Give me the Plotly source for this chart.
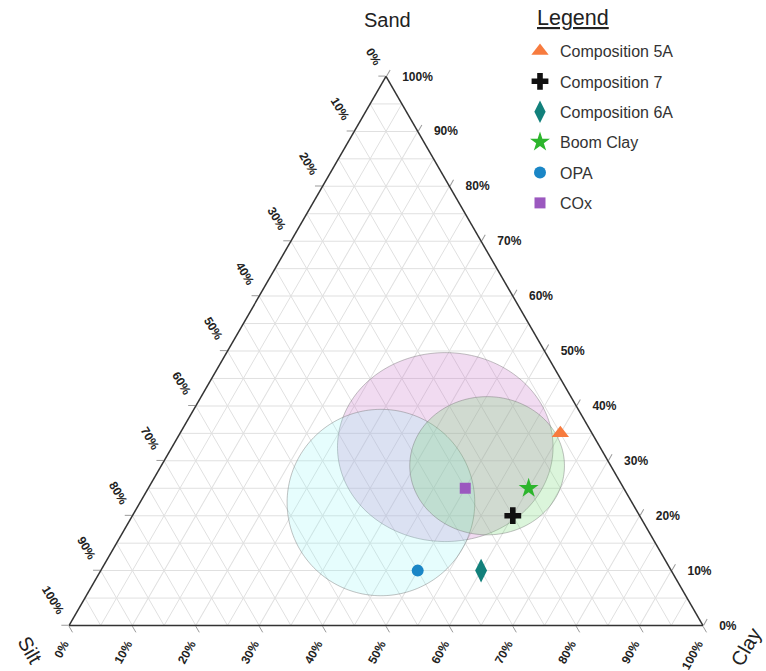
import numpy as np
import plotly.graph_objects as go

# Sample compositions (percent)
names = ["Composition 5A", "Composition 7", "Composition 6A", "Boom Clay", "OPA", "COx"]
sand = [35, 20, 10, 25, 10, 25]
silt = [5, 20, 30, 15, 40, 25]
clay = [60, 60, 60, 60, 50, 50]
symbols = ["triangle-up", "cross", "diamond-tall", "star", "circle", "square"]
colors = ["#f77b3e", "#111111", "#12807b", "#2cb52c", "#1a86c6", "#9b58bf"]
sizes = [15, 14, 17, 15, 12, 11]

# Envelope ellipses: centre (sand, silt, clay %) and half-axes as a fraction of the side
env_sand = [32.5, 22.4, 29.1]
env_silt = [24.4, 39.6, 19.5]
env_clay = [43.1, 38.0, 51.4]
env_rx = [0.170, 0.148, 0.122]
env_ry = [0.149, 0.147, 0.109]
env_fill = ["rgba(200,110,200,0.25)", "rgba(140,245,245,0.22)", "rgba(110,215,110,0.25)"]

tick_vals = list(range(0, 101, 10))
minor_vals = list(range(5, 100, 10))

FONT = "Arial, Liberation Sans, sans-serif"
GRID = "#e0e0e0"
H = np.sqrt(3) / 2

fig = go.Figure()

# 5 % grid lines between the labelled ones
for key in ["a", "b", "c"]:
    A, B, C = [], [], []
    for v in minor_vals:
        pts = {"a": [], "b": [], "c": []}
        others = [k for k in "abc" if k != key]
        pts[key] = [v, v]
        pts[others[0]] = [100 - v, 0]
        pts[others[1]] = [0, 100 - v]
        A += pts["a"] + [None]
        B += pts["b"] + [None]
        C += pts["c"] + [None]
    fig.add_trace(go.Scatterternary(a=A, b=B, c=C, mode="lines",
                                    line=dict(color=GRID, width=1),
                                    hoverinfo="skip", showlegend=False))

# envelopes
t = np.linspace(0, 2 * np.pi, 200)
for s0, t0, c0, rx, ry, fc in zip(env_sand, env_silt, env_clay, env_rx, env_ry, env_fill):
    y0 = s0 / 100 * H
    x0 = c0 / 100 + 0.5 * s0 / 100
    xs = x0 + rx * np.cos(t)
    ys = y0 + ry * np.sin(t)
    sa = ys / H
    cl = xs - 0.5 * sa
    si = 1 - sa - cl
    fig.add_trace(go.Scatterternary(a=sa * 100, b=si * 100, c=cl * 100, mode="lines",
                                    fill="toself", fillcolor=fc,
                                    line=dict(color="rgba(120,120,120,0.45)", width=1),
                                    hoverinfo="skip", showlegend=False))

# samples
for i, n in enumerate(names):
    fig.add_trace(go.Scatterternary(
        a=[sand[i]], b=[silt[i]], c=[clay[i]], mode="markers", name=n,
        legendgroup=n,
        marker=dict(symbol=symbols[i], size=sizes[i], color=colors[i],
                    line=dict(width=0))))

NB = "\u00a0"
axis_common = dict(tickmode="array", tickvals=tick_vals,
                   ticks="outside", ticklen=7, tickcolor="#9a9a9a",
                   showline=True, linecolor="#333333", linewidth=1.5,
                   showgrid=True, gridcolor=GRID, gridwidth=1,
                   tickfont=dict(family=FONT, size=12, color="#222222", weight="bold"),
                   title=dict(text=""))

fig.update_layout(
    width=766, height=671,
    margin=dict(l=0, r=0, t=0, b=0),
    paper_bgcolor="white",
    font=dict(family=FONT, color="#222222"),
    ternary=dict(
        sum=100,
        bgcolor="white",
        domain=dict(x=[69 / 766, 703 / 766], y=[1 - 626 / 671, 1 - 76 / 671]),
        aaxis=dict(axis_common, tickangle=59,
                   ticktext=[f"{100 - v}%{NB * 2}<br>{NB}" for v in tick_vals]),
        baxis=dict(axis_common, tickangle=-61,
                   ticktext=[f"{100 - v}%{NB}<br>{NB}" for v in tick_vals]),
        caxis=dict(axis_common, tickangle=0,
                   ticktext=[f"{NB}<br>{NB * 3}{100 - v}%" for v in tick_vals]),
    ),
    legend=dict(
        x=520 / 766, y=1 - 34 / 671, xanchor="left", yanchor="top",
        traceorder="grouped", tracegroupgap=6.6,
        font=dict(family=FONT, size=16, color="#333333"),
        bgcolor="rgba(0,0,0,0)",
    ),
    annotations=[
        dict(text="<u>Legend</u>", x=573 / 766, y=1 - 18 / 671, xref="paper", yref="paper",
             xanchor="center", yanchor="middle", showarrow=False,
             font=dict(family=FONT, size=21.5, color="#222222")),
        dict(text="Sand", x=387 / 766, y=1 - 20 / 671, xref="paper", yref="paper",
             xanchor="center", yanchor="middle",
             showarrow=False, font=dict(family=FONT, size=20, color="#222222")),
        dict(text="Silt", x=30 / 766, y=1 - 650 / 671, xref="paper", yref="paper",
             xanchor="center", yanchor="middle",
             showarrow=False, textangle=60, font=dict(family=FONT, size=20, color="#222222")),
        dict(text="Clay", x=746 / 766, y=1 - 647 / 671, xref="paper", yref="paper",
             xanchor="center", yanchor="middle",
             showarrow=False, textangle=-60, font=dict(family=FONT, size=20, color="#222222")),
    ],
)

fig.write_html("out.html")
